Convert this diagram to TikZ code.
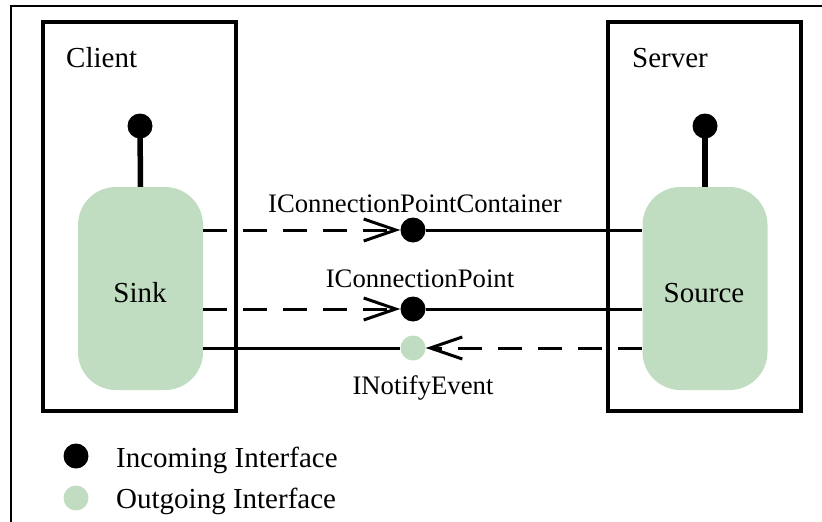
\documentclass[tikz,border=0pt]{standalone}
\usepackage{fontspec}
\setmainfont{Liberation Serif}
\newfontfamily\diagfont{Liberation Serif}
\usetikzlibrary{arrows.meta,positioning}
\definecolor{outgreen}{RGB}{192,221,193}

\begin{document}
\begin{tikzpicture}[x=1pt,y=-1pt,
    every node/.style={font=\diagfont\fontsize{29}{33}\selectfont, inner sep=0pt},
    iflabel/.style={font=\diagfont\fontsize{26.7}{30}\selectfont, anchor=base},
    compbox/.style={draw, line width=4pt, minimum width=193pt, minimum height=389pt},
    objbox/.style={fill=outgreen, rounded corners=38pt, minimum width=125pt, minimum height=203pt},
    indot/.style={circle, fill=black, minimum size=25pt},
    outdot/.style={circle, fill=outgreen, minimum size=25pt},
    conn/.style={line width=3pt},
    dashconn/.style={line width=3pt, dash pattern=on 24pt off 16pt},
    barb/.style={-{Straight Barb[length=32pt,width=22pt]}}]
    \useasboundingbox (0,0) rectangle (822,522);
    % frame, only its top and left edge show
    \draw [line width=2pt] (11,522) |- (822,6);

    % client and server
    \node [compbox] (client) at (139.5,216) {};
    \node [compbox] (server) at (704,216) {};
    \node [anchor=base west] at (66,67) {Client};
    \node [anchor=base west] at (632,67) {Server};

    \node [objbox] (sink) at (140.5,288.5) {};
    \node [objbox] (source) at (705,288.5) {};
    \node [anchor=base] at (140,302) {Sink};
    \node [anchor=base] at (704,302) {Source};

    % interfaces on the objects
    \node [indot] (sinkdot) at (140,126) {};
    \node [indot] (sourcedot) at (705,126) {};
    \draw [line width=5.5pt] (sink.north) -- (sinkdot.center);
    \draw [line width=5.5pt] (source.north) -- (sourcedot.center);

    \node [indot] (cpc) at (413,230) {};
    \node [indot] (cp) at (413,309) {};
    \node [outdot] (nev) at (413,348) {};
    \node [iflabel] at (415,212) {IConnectionPointContainer};
    \node [iflabel] at (420,287) {IConnectionPoint};
    \node [iflabel] at (423,394) {INotifyEvent};

    \draw [dashconn, barb] (sink.east |- cpc) -- (cpc.west);
    \draw [conn] (cpc.east) -- (source.west |- cpc);
    \draw [dashconn, barb] (sink.east |- cp) -- (cp.west);
    \draw [conn] (cp.east) -- (source.west |- cp);
    \draw [conn] (sink.east |- nev) -- (nev.west);
    \draw [dashconn, barb] (source.west |- nev) -- (nev.east);

    % legend
    \node [indot] (inkey) at (76,456) {};
    \node [outdot] (outkey) at (76,498) {};
    \node [anchor=base west] at (116,467) {Incoming Interface};
    \node [anchor=base west] at (116,508) {Outgoing Interface};
\end{tikzpicture}
\end{document}
